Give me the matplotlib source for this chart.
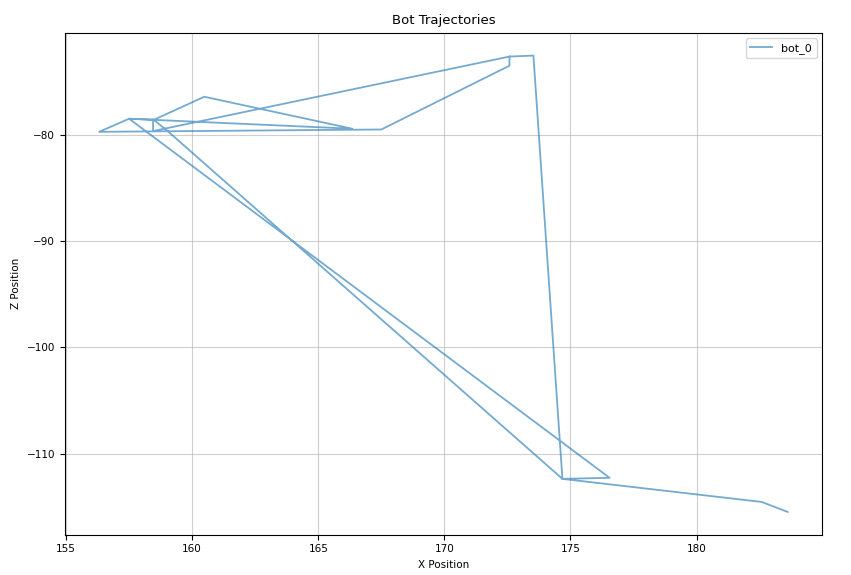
import matplotlib
matplotlib.use("Agg")
import matplotlib.pyplot as plt

# trajectory of bot_0 (X, Z)
bot_name = "bot_0"
x_pos = [172.58, 158.45, 158.45, 158.97, 174.68, 176.55, 157.50, 158.49,
         160.48, 166.35, 157.50, 156.31, 167.50, 172.58, 172.58, 173.53,
         174.68, 182.58, 183.61]
z_pos = [-72.64, -79.65, -78.55, -79.53, -112.36, -112.26, -78.49, -78.58,
         -76.42, -79.43, -78.49, -79.72, -79.50, -73.50, -72.64, -72.55,
         -112.36, -114.53, -115.47]

plt.rcParams['font.size'] = 7.5
fig, ax = plt.subplots(figsize=(8.51, 5.75), dpi=100)
fig.subplots_adjust(left=0.076, right=0.966, top=0.943, bottom=0.070)

ax.plot(x_pos, z_pos, color='#1f77b4', alpha=0.62, linewidth=1.3, label=bot_name)
ax.set_title("Bot Trajectories", fontsize=9.5)
ax.set_xlabel("X Position")
ax.set_ylabel("Z Position")
ax.grid(True, linewidth=0.8, alpha=0.6)
ax.legend(loc='upper right', fontsize=8)

fig.savefig("out.png", dpi=100)
